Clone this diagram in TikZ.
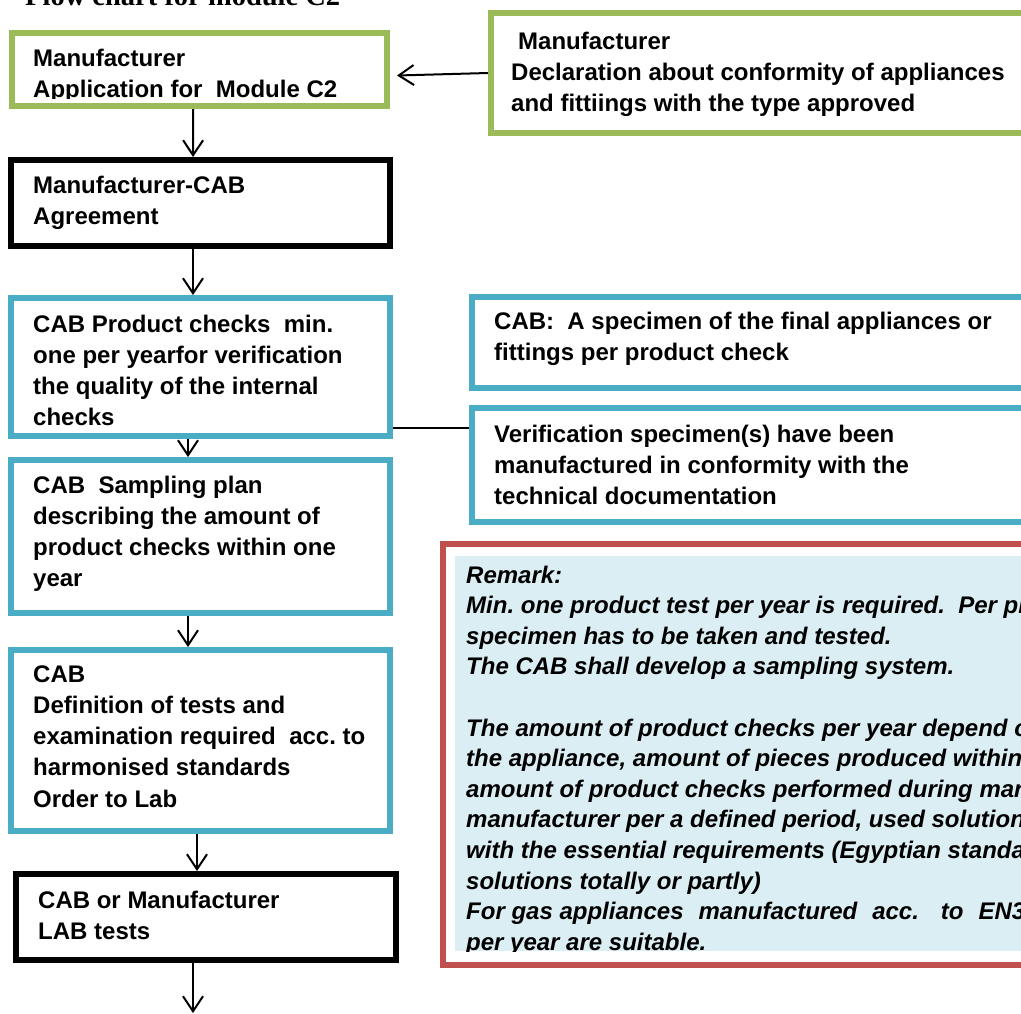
\documentclass[tikz,border=0pt]{standalone}
\usepackage{fontspec}
\setmainfont{Liberation Sans}
\newfontfamily\serifttl{Liberation Serif}
\usetikzlibrary{arrows.meta,fit}
\definecolor{bxgreen}{HTML}{9BBB59}
\definecolor{bxblue}{HTML}{4BACC6}
\definecolor{bxred}{HTML}{C0504D}
\definecolor{remfill}{HTML}{DBEEF3}
\frenchspacing
\begin{document}
\begin{tikzpicture}[x=1pt,y=-1pt,
  box/.style={draw, line width=6pt, inner sep=0pt},
  gbox/.style={box, draw=bxgreen},
  bbox/.style={box, draw=bxblue},
  kbox/.style={box, draw=black},
  rbox/.style={box, draw=bxred},
  txt/.style={anchor=base west, inner sep=0pt, font=\fontsize{24}{31.3}\selectfont\bfseries},
  rtxt/.style={anchor=base west, inner sep=0pt, font=\fontsize{24}{30.6}\selectfont\bfseries\itshape},
  arr/.style={line width=2pt, -{Straight Barb[length=15pt,width=20pt,line width=2pt]}},
  conn/.style={line width=1.5pt}
]
\useasboundingbox (0,0) rectangle (1021,1013);
\clip (0,0) rectangle (1021,1013);
\fill[white] (0,0) rectangle (1021,1013);

% title (cut at top)
\node[anchor=base west, inner sep=0pt, font=\serifttl\fontsize{28.5}{30}\selectfont\bfseries] (title) at (25,5) {Flow chart for module C2};

% boxes
\node[gbox, fit={(11.5,33) (387,106)}] (A) {};
\node[gbox, fit={(491,13) (1040,133)}] (B) {};
\node[kbox, fit={(11,160) (390,246)}] (C) {};
\node[bbox, fit={(11,298) (390,436)}] (D) {};
\node[bbox, fit={(472,297) (1040,388)}] (E) {};
\node[bbox, fit={(472,408) (1040,522)}] (F) {};
\node[bbox, fit={(11,460) (390,613)}] (G) {};
\node[bbox, fit={(11,650) (390,831)}] (H) {};
\node[kbox, fit={(16,874) (396,960)}] (I) {};
\node[rbox, fit={(443,544) (1040,965)}] (J) {};
\fill[remfill] (455,556) rectangle (1040,951);

% texts
\begin{scope}
\clip (15,36) rectangle (384,98);
\node[txt] (At) at (33,66) {\parbox[t]{600pt}{\raggedright Manufacturer\\Application for~ Module C2}};
\end{scope}
\node[txt] (Bt) at (511,49) {\parbox[t]{700pt}{\raggedright \hspace*{7pt}Manufacturer\\Declaration about conformity of appliances\\and fittiings with the type approved}};
\node[txt] (Ct) at (33,193) {\parbox[t]{600pt}{\raggedright Manufacturer-CAB\\Agreement}};
\begin{scope}
\clip (15,301) rectangle (387,425);
\node[txt] (Dt) at (33,332) {\parbox[t]{600pt}{\raggedright CAB Product checks~ min.\\one per yearfor verification\\the quality of the internal\\checks}};
\end{scope}
\node[txt] (Et) at (494,329) {\parbox[t]{700pt}{\raggedright CAB:~ A specimen of the final appliances or\\fittings per product check}};
\node[txt] (Ft) at (494,442) {\parbox[t]{700pt}{\raggedright Verification specimen(s) have been\\manufactured in conformity with the\\technical documentation}};
\node[txt] (Gt) at (33,493) {\parbox[t]{600pt}{\raggedright CAB~ Sampling plan\\describing the amount of\\product checks within one\\year}};
\node[txt] (Ht) at (33,682) {\parbox[t]{600pt}{\raggedright CAB\\Definition of tests and\\examination required~ acc. to\\harmonised standards\\Order to Lab}};
\node[txt] (It) at (38,908) {\parbox[t]{600pt}{\raggedright CAB or Manufacturer\\LAB tests}};
\begin{scope}
\clip (455,556) rectangle (1021,951);
\node[rtxt] (Jt) at (466,583) {\parbox[t]{800pt}{\raggedright Remark:\\
Min. one product test per year is required.~ Per pro\\
specimen has to be taken and tested.\\
The CAB shall develop a sampling system.\\[30.6pt]
The amount of product checks per year depend on\\
the appliance, amount of pieces produced within a\\
amount of product checks performed during mark\\
manufacturer per a defined period, used solutions\\
with the essential requirements (Egyptian standards\\
solutions totally or partly)\\
For gas appliances\hspace{15pt}manufactured\hspace{15pt}acc.\hspace{22pt}to\hspace{15pt}EN30\\
per year are suitable.}};
\end{scope}

% connectors
\coordinate (dl) at (0,428);
\coordinate (endI) at (193,1013);
\draw[arr] (B.west) -- ([shift={(7pt,-6pt)}]A.east);
\draw[arr] ([xshift=-6pt]A.south) -- ([xshift=-7.5pt]C.north);
\draw[arr] ([xshift=-7.5pt]C.south) -- ([xshift=-7.5pt]D.north);
\draw[arr] ([xshift=-12.5pt]D.south) -- ([xshift=-12.5pt]G.north);
\draw[arr] ([xshift=-12.5pt]G.south) -- ([xshift=-12.5pt]H.north);
\draw[arr] ([xshift=-3.5pt]H.south) -- ([xshift=-9pt]I.north);
\draw[arr] ([xshift=-13pt]I.south) -- (endI);
\draw[conn] (D.east |- dl) -- (F.west |- dl);
\end{tikzpicture}
\end{document}
